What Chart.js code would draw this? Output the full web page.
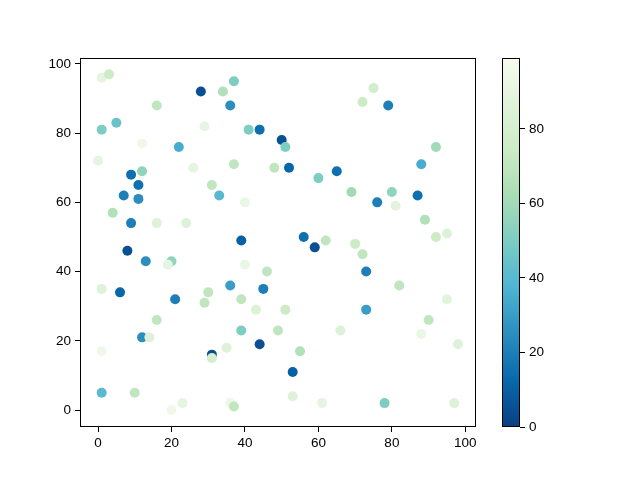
<!DOCTYPE html>
<html>
<head>
<meta charset="utf-8">
<script src="https://cdn.jsdelivr.net/npm/chart.js@4"></script>
<style>
  html,body{margin:0;padding:0;background:#fff;}
  #wrap{position:relative;width:640px;height:480px;}
  canvas{position:absolute;left:0;top:0;}
</style>
</head>
<body>
<div id="wrap">
  <canvas id="main" width="640" height="480"></canvas>
  <canvas id="cbar" width="640" height="480"></canvas>
</div>
<script>
const xs = [1,3,1,5,16,28,34,37,36,22,29,12,41,44,50,51,52,48,37,26,
            9,12,11,7,11,4,0,9,16,24,31,33,40,39,8,13,20,19,40,46,
            1,6,21,30,29,36,39,45,43,16,12,14,39,49,51,31,31,35,44,1,
            53,55,1,10,20,23,36,37,53,61,78,97,66,56,59,62,60,65,69,70,
            72,73,73,76,72,75,79,80,81,82,87,88,92,89,92,95,90,95,88,98];
const ys = [96,97,81,83,88,92,92,95,88,76,82,77,81,81,78,76,70,70,71,70,
            68,69,65,62,61,57,72,54,54,54,65,62,60,49,46,43,43,42,42,40,
            35,34,32,34,31,36,32,35,29,26,21,21,23,23,29,16,15,18,19,17,
            11,17,5,5,0,2,2,1,4,2,2,2,23,50,47,49,67,69,63,48,
            45,40,29,60,89,93,88,63,59,36,62,71,76,55,50,51,26,32,22,19];
const vals = [90,75,50,45,70,5,65,50,25,35,90,95,50,15,5,50,12,70,70,90,
              15,55,15,20,25,65,90,20,85,85,70,40,92,10,5,25,55,90,92,70,
              85,12,20,70,70,30,70,20,85,70,25,85,50,70,75,5,80,85,5,95,
              10,65,40,70,95,90,93,70,85,90,50,85,85,15,5,70,50,15,60,75,
              70,20,30,20,75,78,20,55,88,70,15,35,60,65,75,85,70,88,92,85];
const xTicks = [0,20,40,60,80,100];
const yTicks = [0,20,40,60,80,100];
const cTicks = [0,20,40,60,80];
const vMin = 0, vMax = 99;

// GnBu reversed (ColorBrewer 9-class)
const stops = ['#084081','#0868ac','#2b8cbe','#4eb3d3','#7bccc4','#a8ddb5','#ccebc5','#e0f3db','#f7fcf0'];
function hex(h){return [parseInt(h.slice(1,3),16),parseInt(h.slice(3,5),16),parseInt(h.slice(5,7),16)];}
function cmap(v){
  let t = (v - vMin)/(vMax - vMin); t = Math.max(0, Math.min(1, t));
  const p = t*(stops.length-1); const i = Math.min(stops.length-2, Math.floor(p)); const f = p - i;
  const a = hex(stops[i]), b = hex(stops[i+1]);
  return 'rgb(' + a.map((c,k)=>Math.round(c+(b[k]-c)*f)).join(',') + ')';
}

const FONT = {family:'"Liberation Sans", Arial, sans-serif', size:13.5};
Chart.defaults.font = FONT;
Chart.defaults.color = '#000';

const frame = {
  id:'frame',
  afterDraw(chart){
    const a = chart.chartArea, c = chart.ctx;
    c.save(); c.strokeStyle='#000'; c.lineWidth=1;
    c.strokeRect(Math.round(a.left)+0.5, Math.round(a.top)+0.5, Math.round(a.right-a.left)-1, Math.round(a.bottom-a.top)-1);
    c.restore();
  }
};

const pts = xs.map((x,i)=>({x:x, y:ys[i]}));
new Chart(document.getElementById('main'), {
  type:'scatter',
  data:{datasets:[{data:pts, backgroundColor:vals.map(cmap), pointRadius:5, pointHoverRadius:5, borderWidth:0}]},
  options:{
    responsive:false, animation:false, events:[],
    layout:{padding:{left:0, top:58, right:164, bottom:0}},
    plugins:{legend:{display:false}, tooltip:{enabled:false}},
    scales:{
      x:{type:'linear', min:-4.9, max:102.9,
         afterBuildTicks(s){s.ticks = xTicks.map(v=>({value:v}));},
         afterFit(s){s.height = 53;},
         grid:{drawOnChartArea:false, drawTicks:true, tickLength:5, tickColor:'#000'},
         border:{display:false},
         ticks:{padding:3, maxRotation:0, color:'#000'}},
      y:{type:'linear', min:-4.9, max:101.7,
         afterBuildTicks(s){s.ticks = yTicks.map(v=>({value:v}));},
         afterFit(s){s.width = 80;},
         grid:{drawOnChartArea:false, drawTicks:true, tickLength:5, tickColor:'#000'},
         border:{display:false},
         ticks:{padding:4, color:'#000'}}
    }
  },
  plugins:[frame]
});

new Chart(document.getElementById('cbar'), {
  type:'bar',
  data:{labels:[''], datasets:[{data:[vMax],
    backgroundColor(ctx){
      const ch = ctx.chart, a = ch.chartArea; if(!a) return stops[0];
      const g = ch.ctx.createLinearGradient(0, a.bottom, 0, a.top);
      for(let i=0;i<=50;i++){ g.addColorStop(i/50, cmap(vMin + (vMax-vMin)*i/50)); }
      return g;
    },
    borderWidth:0, barPercentage:1, categoryPercentage:1}]},
  options:{
    responsive:false, animation:false, events:[],
    layout:{padding:{left:502, top:58, right:0, bottom:53}},
    plugins:{legend:{display:false}, tooltip:{enabled:false}},
    scales:{
      x:{display:false},
      y:{position:'right', min:vMin, max:vMax,
         afterBuildTicks(s){s.ticks = cTicks.map(v=>({value:v}));},
         afterFit(s){s.width = 120;},
         grid:{drawOnChartArea:false, drawTicks:true, tickLength:5, tickColor:'#000'},
         border:{display:false},
         ticks:{padding:4, color:'#000'}}
    }
  },
  plugins:[frame]
});
</script>
</body>
</html>
